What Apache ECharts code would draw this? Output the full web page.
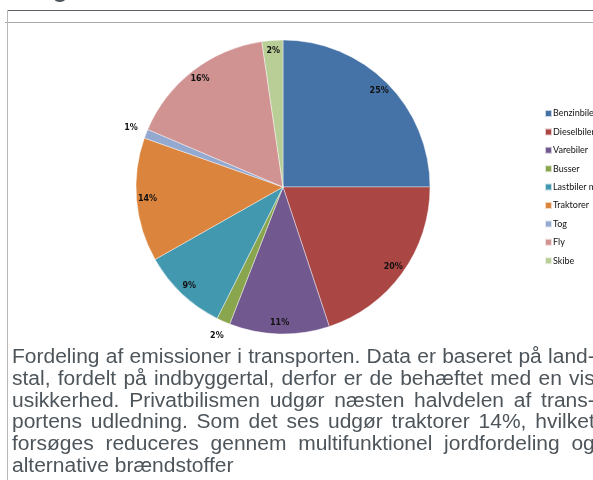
<!DOCTYPE html>
<html>
<head>
<meta charset="utf-8">
<script src="https://cdn.jsdelivr.net/npm/echarts@6/dist/echarts.min.js"></script>
<style>
  html, body { margin: 0; padding: 0; background: #fff; overflow: hidden; }
  #chart { position: absolute; left: 0; top: 0; width: 593px; height: 480px; }
  .caption {
    position: absolute;
    left: 12px;
    top: 346px;
    width: 555px;
    font-family: "Liberation Sans", Arial, sans-serif;
    font-size: 20px;
    line-height: 21.8px;
    color: #4d555b;
    transform: scaleX(1.05);
    transform-origin: 0 0;
  }
  .caption div { white-space: nowrap; }
  .caption .j { text-align: justify; text-align-last: justify; }
</style>
</head>
<body>
<div id="chart"></div>
<div class="caption">
  <div class="j">Fordeling af emissioner i transporten. Data er baseret på land-</div>
  <div class="j">stal, fordelt på indbyggertal, derfor er de behæftet med en vis</div>
  <div class="j">usikkerhed. Privatbilismen udgør næsten halvdelen af trans-</div>
  <div class="j">portens udledning. Som det ses udgør traktorer 14%, hvilket</div>
  <div class="j">forsøges reduceres gennem multifunktionel jordfordeling og</div>
  <div>alternative brændstoffer</div>
</div>
<script>
// andel af udledningen (%)
const categories = ['Benzinbiler', 'Dieselbiler', 'Varebiler', 'Busser', 'Lastbiler mv.', 'Traktorer', 'Tog', 'Fly', 'Skibe'];
const shares = [25, 19.9, 11, 1.5, 9.4, 13.6, 1.0, 16.3, 2.3];
const colors = ['#4572A7', '#AA4643', '#71588F', '#89A54E', '#4198AF', '#DB843D', '#93A9CF', '#D19392', '#B9CD96'];

// små skiver får label udenfor
const outsideLabels = ['Busser', 'Tog'];

const chart = echarts.init(document.getElementById('chart'));

const center = [283, 187];
const R = 147;

const labelStyle = {
  rotate: 0,
  fontFamily: 'DejaVu Sans, sans-serif',
  fontSize: 8,
  fontWeight: 'bold',
  color: '#111',
  formatter: (p) => Math.round(p.value) + '%'
};

const option = {
  animation: false,
  color: colors,
  legend: {
    orient: 'vertical',
    left: 544,
    top: 109,
    padding: 0,
    itemWidth: 7,
    itemHeight: 7,
    itemGap: 9.4,
    icon: 'rect',
    data: categories,
    textStyle: {
      fontFamily: 'Lato, sans-serif',
      fontSize: 9,
      color: '#111',
      padding: [0, 0, 0, -4]
    }
  },
  graphic: [
    { type: 'line', shape: { x1: 7, y1: 10.5, x2: 593, y2: 10.5 }, style: { stroke: '#5a6066', lineWidth: 1 } },
    { type: 'line', shape: { x1: 5, y1: 22.5, x2: 593, y2: 22.5 }, style: { stroke: '#aaaaaa', lineWidth: 1 } },
    { type: 'line', shape: { x1: 7.5, y1: 10, x2: 7.5, y2: 480 }, style: { stroke: '#b8b8b8', lineWidth: 1 } },
    { type: 'text', left: 52, top: -27, style: { text: 'g', fontSize: 30, fontFamily: 'Liberation Sans, sans-serif', fill: '#4d555b' } }
  ],
  series: [
    {
      type: 'pie',
      center: center,
      radius: [0, R],
      startAngle: 90,
      silent: true,
      label: { show: false },
      labelLine: { show: false },
      itemStyle: { borderColor: 'rgba(255,255,255,0.7)', borderWidth: 0.6 },
      data: categories.map((c, i) => ({ name: c, value: shares[i] }))
    },
    {
      // labels inde i skiverne
      type: 'pie',
      center: center,
      radius: [119, R],
      startAngle: 90,
      silent: true,
      itemStyle: { color: 'transparent' },
      labelLine: { show: false },
      label: Object.assign({ show: true, position: 'inside' }, labelStyle),
      data: categories.map((c, i) => ({
        name: c, value: shares[i],
        label: { show: !outsideLabels.includes(c) }
      }))
    },
    {
      // labels udenfor de små skiver
      type: 'pie',
      center: center,
      radius: [150, 170],
      startAngle: 90,
      silent: true,
      itemStyle: { color: 'transparent' },
      labelLine: { show: false },
      label: Object.assign({ show: true, position: 'inside' }, labelStyle),
      data: categories.map((c, i) => ({
        name: c, value: shares[i],
        label: { show: outsideLabels.includes(c) }
      }))
    }
  ]
};

chart.setOption(option);
</script>
</body>
</html>
